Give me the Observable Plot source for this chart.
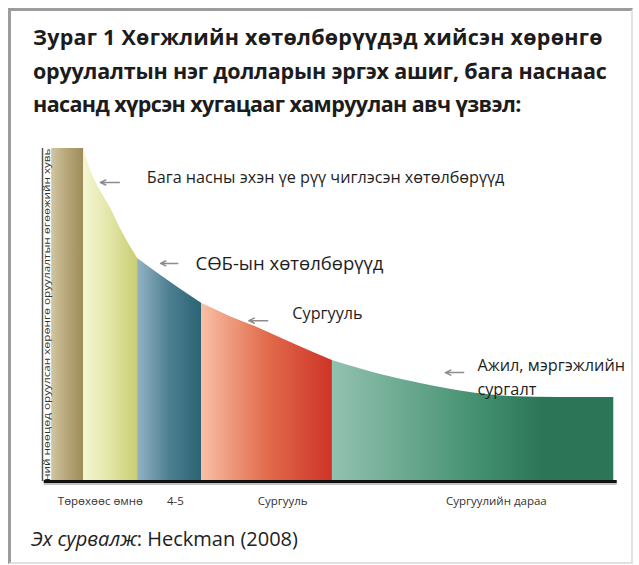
<!DOCTYPE html>
<html><head><meta charset="utf-8">
<script src="https://cdn.jsdelivr.net/npm/d3@7"></script>
<script src="https://cdn.jsdelivr.net/npm/@observablehq/plot@0.6"></script>
<style>
body{margin:0;background:#fff;font-family:"Open Sans",sans-serif;}
#wrap{position:relative;width:639px;height:565px;overflow:hidden;background:#fff;}
#frame{position:absolute;left:8px;top:8px;width:620px;height:551px;border-style:solid;border-width:3px 2px 2px 3px;border-color:#9c9c9c #e2e2e2 #e2e2e2 #9c9c9c;}
#title{position:absolute;left:33px;top:20px;font-weight:700;font-size:21.5px;line-height:33.5px;color:#1c1c1c;margin:0;white-space:nowrap;}
#title span{display:block;}
#chart{position:absolute;left:0;top:130px;}
#caption{position:absolute;left:31px;top:529px;font-size:20px;line-height:20px;color:#222;white-space:nowrap;}
</style></head><body>
<div id="wrap">
<div id="frame"></div>
<div id="title"><span style="letter-spacing:0.25px">Зураг 1 Хөгжлийн хөтөлбөрүүдэд хийсэн хөрөнгө</span><span style="letter-spacing:-0.2px">оруулалтын нэг долларын эргэх ашиг, бага наснаас</span><span style="letter-spacing:-0.6px">насанд хүрсэн хугацааг хамруулан авч үзвэл:</span></div>
<div id="chart"></div>
<div id="caption"><i>Эх сурвалж</i>: Heckman (2008)</div>
</div>
<script>
// ---- data ----
const yLabel = "Хүний нөөцөд оруулсан хөрөнгө оруулалтын өгөөжийн хувь";
const stageNames = ["Төрөхөөс өмнө", "4-5", "Сургууль", "Сургуулийн дараа"];
const stageTickX = [10.1, 23.2, 41.9, 79.2];

const segmentIds = ["prenatal", "early", "preschool", "school", "post"];
const segmentStart = [1.6, 7.2, 16.6, 27.75, 50.6];
const segmentEnd = [7.2, 16.6, 27.75, 50.6, 99.7];

// top edge of the return curve (x = life stage position, y = rate of return)
const curveX = [1.6, 7.2, 8.4, 10.1, 11.9, 13.6, 16.6, 20.6, 24.1, 27.75, 32.8, 38.0, 44.2, 50.6, 59.0, 66.0, 73.5, 81.7, 90.4, 99.7];
const curveY = [100, 100, 93.4, 87.4, 82.0, 76.0, 67.0, 61.9, 57.7, 53.5, 49.5, 45.9, 41.1, 36.3, 32.1, 29.4, 27.0, 25.5, 25.2, 25.2];

const annoText = ["Бага насны эхэн үе рүү чиглэсэн хөтөлбөрүүд", "СӨБ-ын хөтөлбөрүүд", "Сургууль", "Ажил, мэргэжлийн", "сургалт"];
const annoX = [18.2, 26.7, 43.6, 75.9, 75.9];
const annoY = [91.3, 65.2, 50.5, 34.8, 27.6];
const annoSize = [16.2, 18.5, 16.2, 16.3, 16.3];

const arrowFromX = [13.4, 23.6, 39.3, 73.5];
const arrowToX = [10.1, 20.6, 36.0, 70.3];
const arrowY = [89.8, 65.5, 48.3, 32.7];

// gradient stops per segment (left -> right)
const gradStops = [
  ["#d2c6a2", "#b5a577", "#9e8c5b"],
  ["#f5f6d2", "#e2e5a6", "#c9cd72"],
  ["#93b3c5", "#4d7f91", "#2a6474"],
  ["#f8c0a6", "#e26c4c", "#cf3327"],
  ["#92c2b0", "#3f8d6d", "#2c7556"]
];

// ---- build ----
const curve = curveX.map((x, i) => ({x, y: curveY[i]}));
const segData = segmentIds.map((id, k) =>
  curve.filter(d => d.x >= segmentStart[k] - 1e-9 && d.x <= segmentEnd[k] + 1e-9)
);
const annos = annoText.map((t, i) => ({t, x: annoX[i], y: annoY[i], s: annoSize[i]}));
const arrows = arrowFromX.map((x1, i) => ({x1, x2: arrowToX[i], y: arrowY[i]}));

const marks = [];
segData.forEach((data, k) => {
  marks.push(Plot.areaY(data, {
    x: "x", y: "y",
    fill: `url(#grad-${segmentIds[k]})`,
    curve: k === 0 ? "linear" : "monotone-x"
  }));
});
marks.push(Plot.ruleX([0], {y1: 0, y2: 100, stroke: "#555", strokeWidth: 1.5}));
marks.push(Plot.text([yLabel], {
  x: 0.75, y: 100, text: d => d, rotate: -90, textAnchor: "end",
  fontSize: 8.5, fill: "#333", clip: true
}));
marks.push(Plot.ruleY([0], {x1: 0.3, x2: 100.3, stroke: "#9a9a9a", strokeWidth: 3, dy: 2, strokeOpacity: 0.6}));
marks.push(Plot.ruleY([0], {x1: 0.3, x2: 100.3, stroke: "#111", strokeWidth: 3}));
marks.push(Plot.arrow(arrows, {
  x1: "x1", x2: "x2", y1: "y", y2: "y",
  stroke: "#8d8d8d", strokeWidth: 1.5, headLength: 6, headAngle: 50
}));
annos.forEach(a => {
  marks.push(Plot.text([a], {
    x: "x", y: "y", text: "t", textAnchor: "start",
    fontSize: a.s, fill: "#1e1e1e", fontFamily: "Open Sans"
  }));
});

const svg = Plot.plot({
  width: 639,
  height: 400,
  marginLeft: 42,
  marginRight: 24,
  marginTop: 18,
  marginBottom: 49,
  style: {fontFamily: "Open Sans", fontSize: "11.5px", color: "#333", background: "transparent"},
  x: {domain: [0, 100], ticks: stageTickX, tickFormat: d => stageNames[stageTickX.indexOf(d)], tickSize: 0, tickPadding: 15, label: null},
  y: {domain: [0, 100], axis: null},
  marks
});

// gradients
const defs = d3.select(svg).insert("defs", ":first-child");
segmentIds.forEach((id, k) => {
  const g = defs.append("linearGradient").attr("id", `grad-${id}`)
    .attr("x1", "0").attr("x2", "1").attr("y1", "0").attr("y2", "0");
  const stops = gradStops[k];
  stops.forEach((c, j) => {
    g.append("stop").attr("offset", (k === 4 ? [0, 0.55, 0.75][j] : j / (stops.length - 1))).attr("stop-color", c);
  });
});
// condensed y label
d3.select(svg).selectAll("text").filter(function() { return this.textContent === yLabel; })
  .attr("textLength", 345).attr("lengthAdjust", "spacingAndGlyphs");

document.getElementById("chart").appendChild(svg);
</script>
</body></html>
